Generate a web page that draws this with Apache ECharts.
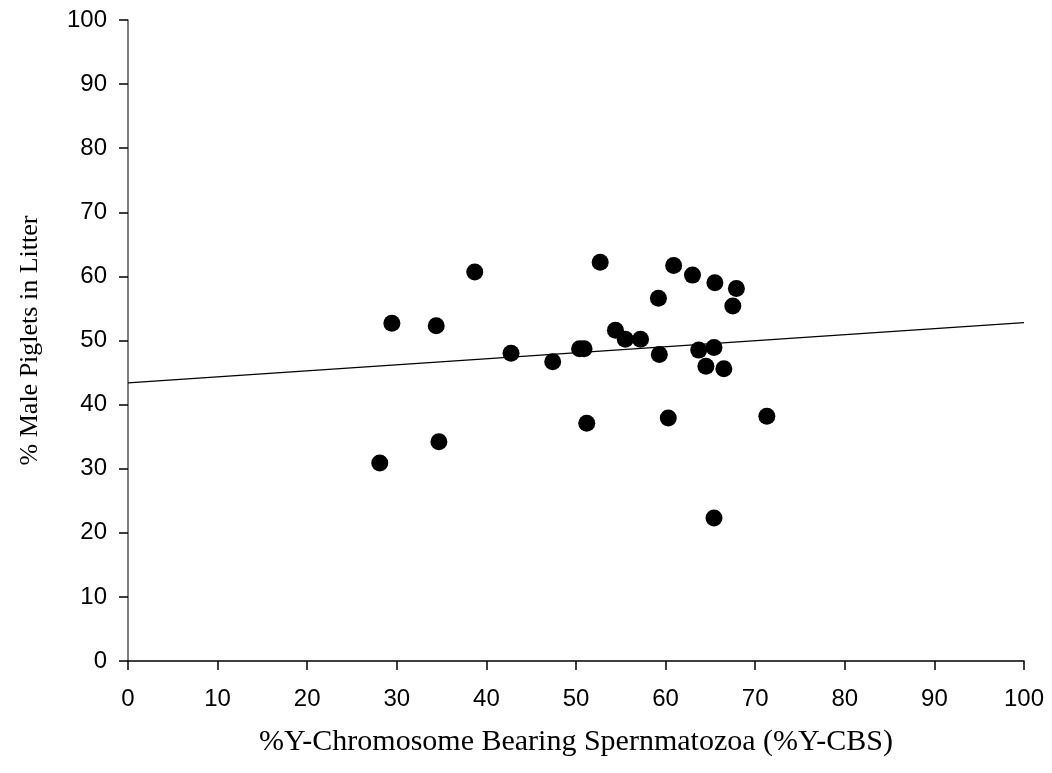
<!DOCTYPE html>
<html>
<head>
<meta charset="utf-8">
<script src="https://cdn.jsdelivr.net/npm/echarts@6/dist/echarts.min.js"></script>
<style>html,body{margin:0;padding:0;background:#fff}#c{width:1052px;height:773px}</style>
</head>
<body>
<div id="c"></div>
<script>
var ycbs = [28.1, 29.45, 34.4, 34.7, 38.7, 42.75, 47.4, 50.4, 50.9, 51.2, 52.7, 54.4, 55.5, 57.2, 59.2, 59.3, 60.3, 60.9, 63.0, 63.7, 64.5, 65.4, 65.5, 65.4, 66.5, 67.5, 67.9, 71.3];
var malePct = [30.9, 52.7, 52.3, 34.2, 60.7, 48.0, 46.7, 48.7, 48.7, 37.1, 62.2, 51.6, 50.2, 50.2, 56.6, 47.8, 37.9, 61.7, 60.2, 48.5, 46.0, 48.9, 59.0, 22.3, 45.6, 55.4, 58.1, 38.2];
var trendX = [0, 100];
var trendY = [43.4, 52.8];
var xTitle = '%Y-Chromosome Bearing Spernmatozoa (%Y-CBS)';
var yTitle = '% Male Piglets in Litter';

var pts = ycbs.map(function (x, i) { return [x, malePct[i]]; });
var trend = trendX.map(function (x, i) { return [x, trendY[i]]; });

var chart = echarts.init(document.getElementById('c'), null, { renderer: 'canvas' });
chart.setOption({
  animation: false,
  backgroundColor: '#fff',
  grid: { left: 128, right: 28, top: 20, bottom: 112, containLabel: false },
  xAxis: {
    type: 'value', min: 0, max: 100, interval: 10,
    name: xTitle, nameLocation: 'middle', nameGap: 66,
    nameTextStyle: { fontFamily: 'Liberation Serif', fontSize: 30, color: '#000' },
    axisLine: { onZero: false, lineStyle: { color: '#000', width: 1.5 } },
    axisTick: { show: true, inside: false, length: 9, lineStyle: { color: '#000', width: 1.5 } },
    axisLabel: { fontFamily: 'Liberation Sans', fontSize: 24, color: '#000', margin: 26 },
    splitLine: { show: false }
  },
  yAxis: {
    type: 'value', min: 0, max: 100, interval: 10,
    name: yTitle, nameLocation: 'middle', nameGap: 85,
    nameTextStyle: { fontFamily: 'Liberation Serif', fontSize: 26, color: '#000' },
    axisLine: { onZero: false, lineStyle: { color: '#555', width: 1.5 } },
    axisTick: { show: true, inside: false, length: 9, lineStyle: { color: '#000', width: 1.5 } },
    axisLabel: { fontFamily: 'Liberation Sans', fontSize: 24, color: '#000', margin: 21 },
    splitLine: { show: false }
  },
  series: [
    {
      type: 'line', data: trend, showSymbol: false, symbol: 'none',
      lineStyle: { color: '#000', width: 1.3 }, z: 1
    },
    {
      type: 'scatter', data: pts, symbol: 'circle', symbolSize: 17,
      itemStyle: { color: '#000', opacity: 1 }, z: 2
    }
  ]
});
</script>
</body>
</html>
